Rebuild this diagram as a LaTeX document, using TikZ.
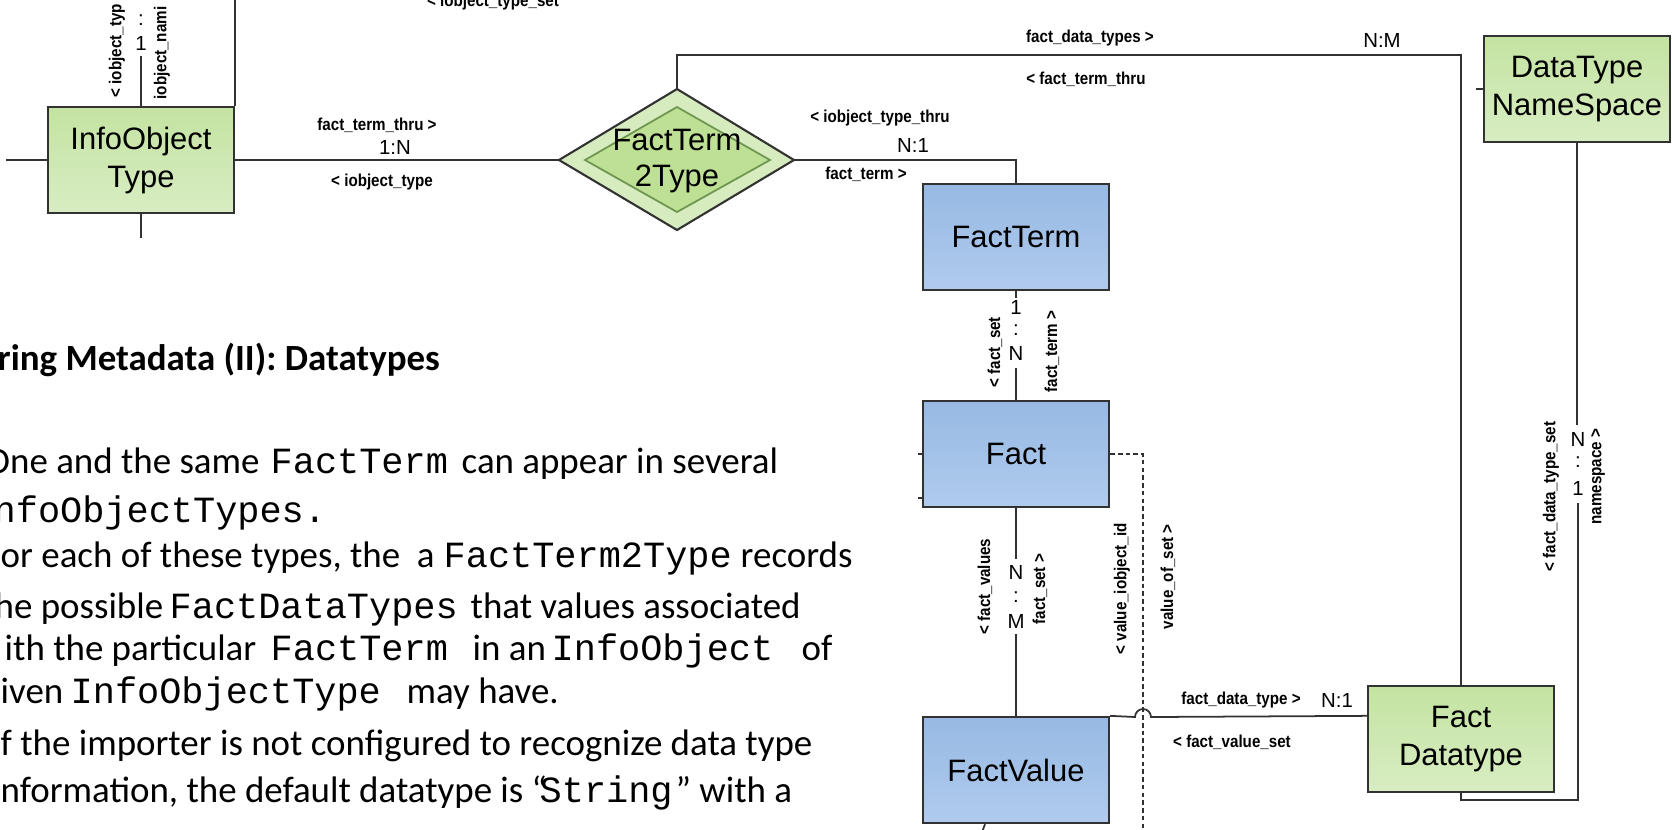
\documentclass[tikz,border=0pt]{standalone}
\usepackage{fontspec}
\setmainfont{Carlito}
\newfontfamily\codefont{Liberation Mono}
\newfontfamily\erfont{Liberation Sans}
\newfontfamily\lblfont[FakeStretch=0.88]{Liberation Sans}
\usepackage{tikz}
\usetikzlibrary{positioning,shapes.geometric}
\definecolor{grtop}{RGB}{196,227,162}
\definecolor{grbot}{RGB}{216,237,194}
\definecolor{bltop}{RGB}{151,185,227}
\definecolor{blbot}{RGB}{176,203,237}
\definecolor{diaout}{RGB}{214,236,190}
\definecolor{diain}{RGB}{190,224,148}
\definecolor{diaedge}{RGB}{110,150,80}
\definecolor{linegray}{RGB}{50,50,50}

\begin{document}
\begin{tikzpicture}[
  x=0.01cm,y=-0.01cm,
  entity/.style={draw=linegray,line width=0.65pt,minimum width=1.86cm,minimum height=1.06cm,
    inner sep=0pt,align=center,font=\erfont\fontsize{8.8}{10.8}\selectfont},
  greenbox/.style={entity,top color=grtop,bottom color=grbot},
  bluebox/.style={entity,top color=bltop,bottom color=blbot},
  diaouter/.style={draw=linegray,line width=0.6pt,fill=diaout},
  diainner/.style={draw=diaedge,line width=0.5pt,fill=diain},
  dialabel/.style={inner sep=0pt,align=center,font=\erfont\fontsize{8.8}{10}\selectfont},
  rel/.style={draw=linegray,line width=0.5pt},
  role/.style={inner sep=0pt,font=\lblfont\bfseries\fontsize{4.9}{5.5}\selectfont},
  vrole/.style={role,rotate=90,anchor=west},
  card/.style={inner sep=0pt,font=\erfont\fontsize{5.8}{6}\selectfont},
  body/.style={anchor=base west,inner sep=0pt,font=\fontsize{10.5}{12.8}\selectfont},
  code/.style={body,font=\codefont\fontsize{10.5}{12.8}\selectfont}
  ]
  \useasboundingbox (0,0) rectangle (1672,829);
  \clip (0,0) rectangle (1672,829);
  % Entities
  \node[greenbox] (iotype) at (141,160) {InfoObject\\Type};
  \node[bluebox]  (fterm)  at (1016,237) {FactTerm};
  \node[bluebox]  (fact)   at (1016,454) {Fact};
  \node[bluebox]  (fval)   at (1016,770) {FactValue};
  \node[greenbox] (fdtype) at (1461,739) {Fact\\Datatype};
  \node[greenbox] (nspace) at (1577,89)  {DataType\\NameSpace};
  % Relationship FactTerm2Type
  \draw[diaouter] (559,160) coordinate (ft2tW) -- (677,89) coordinate (ft2tN)
    -- (794,160) coordinate (ft2tE) -- (677,230) -- cycle;
  \draw[diainner] (585,160) -- (677,107) -- (770,160) -- (677,212) -- cycle;
  \node[dialabel] (ft2t) at (677,161) {FactTerm\\2Type};
  \coordinate (dashend) at (1143,829);
  % Connectors
  \draw[rel] (iotype.east) -- (ft2tW);
  \draw[rel] (ft2tE) -| (fterm.north);
  \draw[rel] (ft2tN) -- ++(0,-34) -| (fdtype.north);
  \draw[rel] (fterm.south) -- ++(0,7);
  \draw[rel] (fact.north) -- ++(0,-32);
  \draw[rel] (fact.south) -- ++(0,51);
  \draw[rel] (fval.north) -- ++(0,-82);
  \draw[rel,dash pattern=on 1.3pt off 0.9pt] (fact.east) -| (dashend);
  \draw[rel] (fval.north east) -- (1135,717) arc (180:360:8) -- (fdtype.west |- fval.north east);
  \draw[rel] (fdtype.south) -- ++(0,7) -| (1578,503);
  \draw[rel] (nspace.south) -- ++(0,282);
  % Stubs
  \draw[rel] (iotype.west) -- ++(-41,0);
  \draw[rel] (iotype.south) -- ++(0,24);
  \draw[rel] (iotype.north) -- ++(0,-50);
  \draw[rel] (iotype.north east) -- ++(0,-108);
  \draw[rel] (fact.west) -- ++(-4,0);
  \draw[rel] (fact.south west) ++(0,-10) -- ++(-4,0);
  \draw[rel] (nspace.west) -- ++(-7,0);
  \draw[rel] (fval.south) ++(-31,0) -- ++(-3,8);
  % Cardinalities
  \node[card] (c1) at (395,147)  {1:N};
  \node[card] (c2) at (913,145)  {N:1};
  \node[card] (c3) at (1382,40)  {N:M};
  \node[card] (c4) at (1337,700) {N:1};
  \node[card] at (141,43)  {1};
  \node[card] at (141,20)  {:};
  \node[card] at (1016,307) {1};
  \node[card] at (1016,330) {:};
  \node[card] at (1016,353) {N};
  \node[card] at (1016,572) {N};
  \node[card] at (1016,597) {:};
  \node[card] at (1016,621) {M};
  \node[card] at (1578,439) {N};
  \node[card] at (1578,462) {:};
  \node[card] at (1578,488) {1};
  % Role names
  \node[role] at (377,125)  {fact\_term\_thru >};
  \node[role] at (382,182)  {< iobject\_type};
  \node[role] at (493,2)    {< iobject\_type\_set};
  \node[role] at (880,118)  {< iobject\_type\_thru};
  \node[role] at (866,174)  {fact\_term >};
  \node[role] at (1090,38)  {fact\_data\_types >};
  \node[role] at (1086,79)  {< fact\_term\_thru};
  \node[role] at (1241,700) {fact\_data\_type >};
  \node[role] at (1232,742) {< fact\_value\_set};
  \node[vrole] at (117,98)   {< iobject\_typ};
  \node[vrole] at (162,100)  {iobject\_nami};
  \node[vrole] at (995,388)  {< fact\_set};
  \node[vrole] at (1052,393) {fact\_term >};
  \node[vrole] at (985,635)  {< fact\_values};
  \node[vrole] at (1040,625) {fact\_set >};
  \node[vrole] at (1122,655) {< value\_iobject\_id};
  \node[vrole] at (1168,630) {value\_of\_set >};
  \node[vrole] at (1551,572) {< fact\_data\_type\_set};
  \node[vrole] at (1598,525) {namespace >};
  % Slide text
  \node[body,font=\bfseries\fontsize{10.5}{12.8}\selectfont] (title) at (-3,370) {ring Metadata (II): Datatypes};
  \node[body] (l1a) at (-15,473) {One and the same};
  \node[code] (l1b) at (270,473) {FactTerm};
  \node[body] (l1c) at (461,473) {can appear in several};
  \node[code] (l2)  at (-7,522)  {nfoObjectTypes.};
  \node[body] (l3a) at (0,567)   {or each of these types, the~~a};
  \node[code] (l3b) at (443,567) {FactTerm2Type};
  \node[body] (l3c) at (740,567) {records};
  \node[body] (l4a) at (-6,618)  {he possible};
  \node[code] (l4b) at (169,618) {FactDataTypes};
  \node[body] (l4c) at (470,618) {that values associated};
  \node[body] (l5a) at (4,660)   {ith the particular};
  \node[code] (l5b) at (270,660) {FactTerm};
  \node[body] (l5c) at (472,660) {in an};
  \node[code] (l5d) at (551,660) {InfoObject};
  \node[body] (l5e) at (801,660) {of};
  \node[body] (l6a) at (0,703)   {iven};
  \node[code] (l6b) at (70,703)  {InfoObjectType};
  \node[body] (l6c) at (406,703) {may have.};
  \node[body] (l7)  at (0,755)   {f the importer is not configured to recognize data type};
  \node[body] (l8a) at (0,802)   {nformation, the default datatype is “};
  \node[code] (l8b) at (539,802) {String};
  \node[body] (l8c) at (675,802) {” with a};
\end{tikzpicture}
\end{document}
